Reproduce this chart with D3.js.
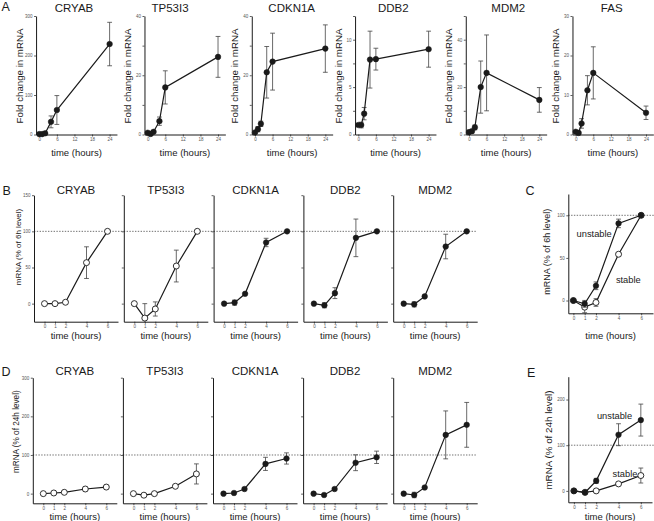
<!DOCTYPE html>
<html><head><meta charset="utf-8">
<script src="https://cdn.jsdelivr.net/npm/d3@7"></script>
<style>
body{margin:0;background:#fff}
svg text{font-family:"Liberation Sans",Arial,sans-serif}
</style>
</head><body>
<svg id="c" width="654" height="521"></svg>
<script>
// ---------- DATA ----------
// Panel A: fold change in mRNA
const timesA = [0, 1, 2, 4, 6, 24];
const genesA = ["CRYAB", "TP53I3", "CDKN1A", "DDB2", "MDM2", "FAS"];
const cryabA = [1, 1, 3, 32, 62, 229];
const cryabAErr = [0, 0, 0, 15, 36.5, 55];
const tp53i3A = [0.6, 0.2, 0.9, 4.5, 15.9, 26.2];
const tp53i3AErr = [0.4, 0.3, 0.4, 1.4, 5.6, 6.9];
const cdkn1aA = [0.7, 1.8, 3.6, 21, 24.6, 29];
const cdkn1aAErr = [0.3, 0.9, 0.9, 8.7, 9.6, 8];
const ddb2A = [1.0, 1.0, 2.2, 7.9, 7.95, 9.0];
const ddb2AErr = [0.1, 0.3, 0.65, 3.0, 1.15, 1.9];
const mdm2A = [1, 1.4, 3, 20, 26, 14.6];
const mdm2AErr = [0.3, 0.8, 1, 11, 16, 5.2];
const fasA = [0.7, 0.4, 2.8, 11.2, 15.6, 5.5];
const fasAErr = [0.2, 0.2, 1.2, 3.7, 6.6, 1.7];
const yMaxA = [300, 40, 40, 12.5, 50, 30];
const yTicksA = [[0,100,200,300],[0,10,20,30,40],[0,10,20,30,40],[0,2.5,5,7.5,10,12.5],[0,10,20,30,40,50],[0,10,20,30]];
const yTickLabelsA = [[0,100,200,300],[0,20,40],[0,20,40],[0,5,10],[0,20,40],[0,10,20,30]];
const xTicksA = [0, 6, 12, 18, 24];

// Panels B-E: short time course
const timesB = [0, 1, 2, 4, 6];
const genesB = ["CRYAB", "TP53I3", "CDKN1A", "DDB2", "MDM2"];
const stableGene = [true, true, false, false, false];
// B: % of 6h level
const cryabB = [0, 0, 1.9, 56.7, 100];
const cryabBErr = [0, 0, 0, 21.9, 0];
const tp53i3B = [0, -20, -7.4, 52, 100];
const tp53i3BErr = [0, 20, 9.8, 22, 0];
const cdkn1aB = [0, 1.4, 13.6, 84.6, 100];
const cdkn1aBErr = [0, 3.5, 0, 5.8, 0];
const ddb2B = [0, -2.3, 14.5, 91, 100];
const ddb2BErr = [0, 3.5, 7.5, 26, 0];
const mdm2B = [0, -1, 10, 79, 100];
const mdm2BErr = [0, 3.5, 0, 17, 0];
const yTicksB = [0, 50, 100, 150];
// C: averages, % of 6h level
const unstableC = [0, -3.9, 17.3, 90.5, 100];
const unstableCErr = [0, 4, 4.5, 5, 0];
const stableC = [0, -7.8, -2.3, 54.3, 100];
const stableCErr = [0, 6.5, 4.5, 0, 0];
const yTicksC = [0, 50, 100];
// D: % of 24h level
const cryabD = [0, 1.7, 3.4, 12, 17];
const cryabDErr = [0, 0, 0, 5, 4.5];
const tp53i3D = [0, -4, 0, 19, 51];
const tp53i3DErr = [0, 0, 0, 0, 26];
const cdkn1aD = [0, 1.7, 12, 77, 91];
const cdkn1aDErr = [0, 0, 0, 17, 14.5];
const ddb2D = [0, -3.5, 12, 80, 94];
const ddb2DErr = [0, 0, 0, 20.5, 16];
const mdm2D = [0, -3.5, 16, 152, 178];
const mdm2DErr = [0, 7, 0, 62, 58];
const yTicksD = [0, 100, 200, 300];
// E: averages, % of 24h level
const unstableE = [0, -3.6, 21.9, 123, 155];
const unstableEErr = [0, 0, 5.5, 24, 35];
const stableE = [0, -3, 0, 15.3, 33.6];
const stableEErr = [0, 0, 0, 0, 16.4];
const yTicksE = [0, 100, 200];

// ---------- DRAWING ----------
const svg = d3.select("#c");
const INK = "#1a1a1a";

function panel(o) {
  const g = svg.append("g");
  const x = d3.scaleLinear().domain(o.xd).range(o.xr);
  const y = d3.scaleLinear().domain(o.yd).range(o.yr);
  const x0 = o.xr[0], yb = o.yr[0];
  if (o.dotEnd) {
    g.append("line").attr("x1", x0).attr("x2", o.dotEnd)
      .attr("y1", y(100)).attr("y2", y(100))
      .attr("stroke", "#333").attr("stroke-width", 0.7).attr("stroke-dasharray", "1.4,1.4");
  }
  const ya = d3.axisLeft(y).tickValues(o.yt).tickSize(2).tickSizeOuter(0).tickPadding(1.5)
    .tickFormat(d => (o.yl && o.yl.includes(d)) ? d : "");
  const yg = g.append("g").attr("transform", `translate(${x0},0)`).call(ya);
  const xa = d3.axisBottom(x).tickValues(o.xt).tickSize(2).tickSizeOuter(0).tickPadding(1.5);
  const xg = g.append("g").attr("transform", `translate(0,${yb})`).call(xa);
  [yg, xg].forEach(a => {
    a.attr("font-size", 4.5).attr("font-family", "Liberation Sans, Arial, sans-serif");
    a.selectAll("path").attr("stroke", INK).attr("stroke-width", 1);
    a.selectAll("line").attr("stroke", INK).attr("stroke-width", 0.7);
    a.selectAll("text").attr("fill", "#555");
  });
  const [ylo, yhi] = o.yd;
  o.series.forEach(s => {
    const pts = o.t.map((t, i) => ({t, m: s.m[i], e: s.e[i]}));
    // error bars
    pts.filter(p => p.e > 0).forEach(p => {
      const top = Math.min(p.m + p.e, yhi), bot = Math.max(p.m - p.e, ylo);
      const cx = x(p.t);
      g.append("line").attr("x1", cx).attr("x2", cx).attr("y1", y(top)).attr("y2", y(bot))
        .attr("stroke", "#444").attr("stroke-width", 0.8);
      if (p.m + p.e <= yhi) g.append("line").attr("x1", cx - 2.4).attr("x2", cx + 2.4)
        .attr("y1", y(top)).attr("y2", y(top)).attr("stroke", "#444").attr("stroke-width", 0.8);
      if (p.m - p.e >= ylo) g.append("line").attr("x1", cx - 2.4).attr("x2", cx + 2.4)
        .attr("y1", y(bot)).attr("y2", y(bot)).attr("stroke", "#444").attr("stroke-width", 0.8);
    });
    g.append("path").datum(pts)
      .attr("d", d3.line().x(p => x(p.t)).y(p => y(p.m)))
      .attr("fill", "none").attr("stroke", INK).attr("stroke-width", 1.2);
    g.selectAll(null).data(pts).join("circle")
      .attr("cx", p => x(p.t)).attr("cy", p => y(p.m))
      .attr("r", s.open ? 3 : 2.8)
      .attr("fill", s.open ? "#fff" : INK)
      .attr("stroke", INK).attr("stroke-width", s.open ? 0.9 : 0.5);
  });
  const cx = (o.xr[0] + o.xr[1]) / 2;
  if (o.title) svg.append("text").attr("x", o.titleX || cx).attr("y", o.titleY)
    .attr("text-anchor", "middle").attr("font-size", 11.5).attr("fill", INK).text(o.title);
  if (o.xlabY) svg.append("text").attr("x", cx).attr("y", o.xlabY)
    .attr("text-anchor", "middle").attr("font-size", 9.5).attr("fill", INK).text("time (hours)");
  if (o.ylab) svg.append("text")
    .attr("transform", `translate(${o.ylab.x},${o.ylab.y}) rotate(-90)`)
    .attr("text-anchor", "middle").attr("dominant-baseline", "central")
    .attr("font-size", o.ylab.size).attr("fill", INK).text(o.ylab.text);
  return {x, y};
}

function letter(t, x, y) {
  svg.append("text").attr("x", x).attr("y", y).attr("font-size", 12.5).attr("fill", INK).text(t);
}

// ---- Panel A ----
const seriesA = [[cryabA, cryabAErr], [tp53i3A, tp53i3AErr], [cdkn1aA, cdkn1aAErr],
                 [ddb2A, ddb2AErr], [mdm2A, mdm2AErr], [fasA, fasAErr]];
const zeroXA = [39.3, 147.7, 255, 358.3, 469, 575.7];
const titleXA = [74, 170, 291.7, 393.3, 508.3, 611.7];
const pxH = 2.93;
genesA.forEach((gname, i) => {
  const z = zeroXA[i];
  panel({
    t: timesA, xd: [-1.1, 26.5], xr: [z - 1.1 * pxH, z + 26.5 * pxH],
    yd: [0, yMaxA[i]], yr: [134.5, 16],
    xt: xTicksA, yt: yTicksA[i], yl: yTickLabelsA[i],
    series: [{m: seriesA[i][0], e: seriesA[i][1], open: false}],
    title: gname, titleX: titleXA[i], titleY: 12, xlabY: 155.5,
    ylab: {x: z - 1.1 * pxH - 17, y: 76, size: 9.7, text: "Fold change in mRNA"}
  });
});
letter("A", 1.5, 10.5);

// ---- Panel B ----
const seriesB = [[cryabB, cryabBErr], [tp53i3B, tp53i3BErr], [cdkn1aB, cdkn1aBErr],
                 [ddb2B, ddb2BErr], [mdm2B, mdm2BErr]];
genesB.forEach((gname, i) => {
  const ax = 34 + 89.8 * i;
  panel({
    t: timesB, xd: [-1, 7], xr: [ax, ax + 84],
    yd: [-25, 150], yr: [321.7, 195.2],
    xt: timesB, yt: yTicksB, yl: i === 0 ? yTicksB : [],
    dotEnd: i < 4 ? ax + 89.8 : ax + 84,
    series: [{m: seriesB[i][0], e: seriesB[i][1], open: stableGene[i]}],
    title: gname, titleY: 193.5, xlabY: 338.5,
    ylab: i === 0 ? {x: 18.5, y: 247, size: 8, text: "mRNA (% of 6h level)"} : null
  });
});
letter("B", 2.5, 195);

// ---- Panel C ----
panel({
  t: timesB, xd: [-0.45, 7.05], xr: [568.3, 653],
  yd: [-15, 125], yr: [313.3, 194],
  xt: timesB, yt: yTicksC, yl: yTicksC, dotEnd: 654,
  series: [{m: stableC, e: stableCErr, open: true}, {m: unstableC, e: unstableCErr, open: false}],
  xlabY: 338.5,
  ylab: {x: 546.7, y: 251.7, size: 9, text: "mRNA (% of 6h level)"}
});
letter("C", 525.5, 195);
svg.append("text").attr("x", 594.2).attr("y", 237.3).attr("text-anchor", "middle")
  .attr("font-size", 9.3).attr("fill", INK).text("unstable");
svg.append("text").attr("x", 628.3).attr("y", 282.6).attr("text-anchor", "middle")
  .attr("font-size", 9.3).attr("fill", INK).text("stable");

// ---- Panel D ----
const seriesD = [[cryabD, cryabDErr], [tp53i3D, tp53i3DErr], [cdkn1aD, cdkn1aDErr],
                 [ddb2D, ddb2DErr], [mdm2D, mdm2DErr]];
genesB.forEach((gname, i) => {
  const ax = 32.8 + 90.1 * i;
  panel({
    t: timesB, xd: [-1, 7], xr: [ax, ax + 84],
    yd: [-25, 300], yr: [503.3, 377.7],
    xt: timesB, yt: yTicksD, yl: i === 0 ? yTicksD : [],
    dotEnd: i < 4 ? ax + 90.1 : ax + 84,
    series: [{m: seriesD[i][0], e: seriesD[i][1], open: stableGene[i]}],
    title: gname, titleY: 375, xlabY: 519.5,
    ylab: i === 0 ? {x: 16.7, y: 431.7, size: 8.2, text: "mRNA (% of 24h level)"} : null
  });
});
letter("D", 1.5, 375.5);

// ---- Panel E ----
panel({
  t: timesB, xd: [-0.5, 7], xr: [568.3, 652],
  yd: [-25, 250], yr: [502.3, 376.7],
  xt: timesB, yt: yTicksE, yl: yTicksE, dotEnd: 654,
  series: [{m: stableE, e: stableEErr, open: true}, {m: unstableE, e: unstableEErr, open: false}],
  xlabY: 519.5,
  ylab: {x: 548.3, y: 440, size: 9.8, text: "mRNA (% of 24h level)"}
});
letter("E", 527, 376.5);
svg.append("text").attr("x", 614.5).attr("y", 419.3).attr("text-anchor", "middle")
  .attr("font-size", 9.3).attr("fill", INK).text("unstable");
svg.append("text").attr("x", 625).attr("y", 476.6).attr("text-anchor", "middle")
  .attr("font-size", 9.3).attr("fill", INK).text("stable");
</script>
</body></html>
